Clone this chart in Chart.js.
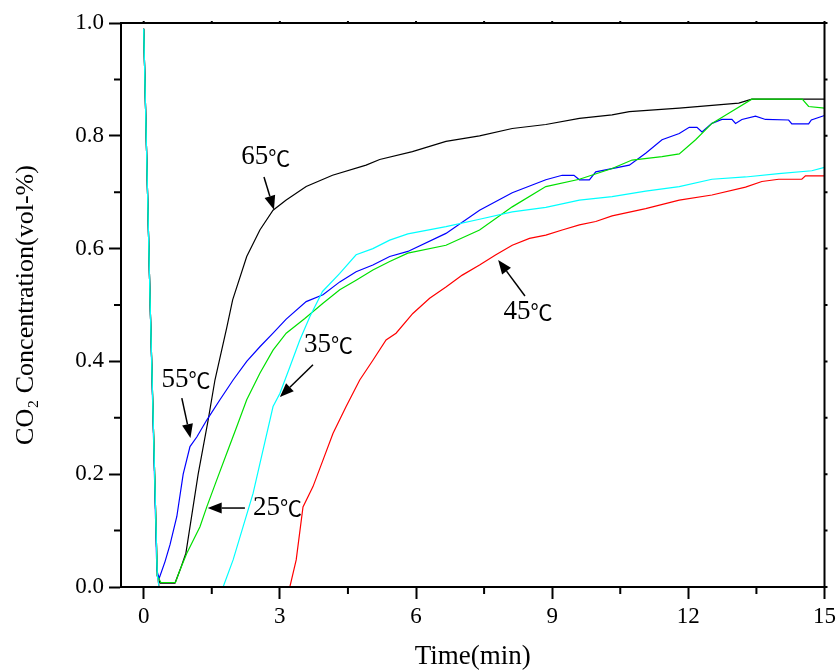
<!DOCTYPE html>
<html><head><meta charset="utf-8">
<script src="https://cdn.jsdelivr.net/npm/chart.js@4/dist/chart.umd.min.js"></script>
<style>html,body{margin:0;padding:0;background:#fff;overflow:hidden}#wrap{width:840px;height:670px}</style>
</head><body><div id="wrap"><canvas id="c" width="840" height="670" style="width:840px;height:670px"></canvas></div>
<script>
// tick labels
const xTickLabels = [0, 3, 6, 9, 12, 15];
const xMinorTicks = [1.5, 4.5, 7.5, 10.5, 13.5];
const yTickLabels = [0.0, 0.2, 0.4, 0.6, 0.8, 1.0];
const yMinorTicks = [0.1, 0.3, 0.5, 0.7, 0.9];

// 25 °C (green)
const t25 = [0, 0.14, 0.30, 0.38, 0.70, 0.80, 0.95, 1.24, 1.39, 1.61, 1.83, 2.05, 2.27, 2.56, 2.85, 3.14, 3.55, 3.95, 4.32, 4.68, 5.05, 5.42, 5.82, 6.66, 7.40, 8.12, 8.86, 9.60, 10.32, 10.76, 11.42, 11.80, 12.16, 12.52, 12.89, 13.40, 14.51, 14.65, 15.0];
const c25 = [0.99, 0.51, 0.02, 0.008, 0.008, 0.03, 0.06, 0.107, 0.142, 0.19, 0.237, 0.284, 0.332, 0.379, 0.42, 0.45, 0.476, 0.503, 0.527, 0.544, 0.562, 0.577, 0.592, 0.606, 0.633, 0.674, 0.71, 0.723, 0.742, 0.757, 0.763, 0.768, 0.793, 0.822, 0.84, 0.865, 0.865, 0.852, 0.849];

// 35 °C (cyan)
const t35 = [0, 0.14, 0.30, 0.34, 1.75, 1.97, 2.19, 2.41, 2.63, 2.85, 3.00, 3.22, 3.44, 3.66, 3.94, 4.32, 4.68, 5.05, 5.42, 5.82, 6.66, 7.40, 8.12, 8.86, 9.60, 10.32, 11.06, 11.80, 12.52, 13.26, 13.99, 14.72, 15.0];
const c35 = [0.99, 0.51, 0.02, 0.0, 0.0, 0.048, 0.107, 0.166, 0.243, 0.32, 0.343, 0.39, 0.438, 0.479, 0.524, 0.556, 0.589, 0.60, 0.615, 0.626, 0.639, 0.652, 0.665, 0.673, 0.686, 0.692, 0.702, 0.71, 0.723, 0.727, 0.733, 0.738, 0.744];

// 45 °C (red)
const t45 = [0, 0.14, 0.30, 0.34, 3.22, 3.36, 3.51, 3.73, 3.95, 4.17, 4.46, 4.76, 5.05, 5.34, 5.56, 5.93, 6.30, 6.66, 7.02, 7.40, 7.76, 8.12, 8.50, 8.86, 9.22, 9.60, 9.96, 10.32, 11.06, 11.80, 12.52, 13.26, 13.62, 13.99, 14.50, 14.58, 15.0];
const c45 = [0.99, 0.51, 0.02, 0.0, 0.0, 0.048, 0.142, 0.178, 0.225, 0.272, 0.32, 0.367, 0.402, 0.438, 0.45, 0.485, 0.512, 0.532, 0.553, 0.571, 0.589, 0.606, 0.618, 0.624, 0.633, 0.642, 0.648, 0.658, 0.671, 0.686, 0.695, 0.709, 0.719, 0.723, 0.723, 0.729, 0.729];

// 55 °C (blue)
const t55 = [0, 0.14, 0.29, 0.34, 0.47, 0.58, 0.73, 0.87, 1.02, 1.17, 1.39, 1.68, 1.97, 2.27, 2.56, 2.85, 3.14, 3.58, 3.95, 4.32, 4.68, 5.05, 5.42, 5.82, 6.66, 7.40, 8.12, 8.86, 9.22, 9.48, 9.60, 9.82, 9.96, 10.70, 11.06, 11.42, 11.80, 12.02, 12.19, 12.30, 12.52, 12.74, 12.96, 13.04, 13.18, 13.48, 13.70, 14.21, 14.28, 14.65, 14.71, 15.0];
const c55 = [0.99, 0.51, 0.03, 0.015, 0.045, 0.075, 0.125, 0.20, 0.249, 0.266, 0.296, 0.332, 0.367, 0.40, 0.426, 0.45, 0.475, 0.506, 0.518, 0.541, 0.559, 0.571, 0.586, 0.595, 0.627, 0.668, 0.699, 0.722, 0.73, 0.73, 0.722, 0.722, 0.736, 0.748, 0.769, 0.793, 0.804, 0.815, 0.815, 0.807, 0.822, 0.829, 0.829, 0.822, 0.829, 0.835, 0.829, 0.828, 0.821, 0.821, 0.828, 0.836];

// 65 °C (black)
const t65 = [0, 0.14, 0.30, 0.36, 0.69, 0.80, 0.93, 1.20, 1.42, 1.57, 1.83, 1.96, 2.27, 2.56, 2.85, 3.14, 3.58, 4.16, 4.90, 5.20, 5.92, 6.66, 7.40, 8.12, 8.86, 9.60, 10.32, 10.70, 11.80, 13.11, 13.40, 15.0];
const c65 = [0.99, 0.51, 0.02, 0.007, 0.007, 0.03, 0.06, 0.20, 0.296, 0.367, 0.46, 0.509, 0.586, 0.633, 0.668, 0.686, 0.71, 0.73, 0.748, 0.758, 0.772, 0.79, 0.80, 0.813, 0.82, 0.831, 0.837, 0.843, 0.849, 0.858, 0.865, 0.865];

// annotation labels with arrows (data units)
const notes = [
  {num: '65', tx: 2.69, ty: 0.762, x0: 2.65, y0: 0.727, x1: 2.87, y1: 0.669},
  {num: '55', tx: 0.93, ty: 0.367, x0: 0.84, y0: 0.335, x1: 1.03, y1: 0.264},
  {num: '35', tx: 4.07, ty: 0.429, x0: 3.73, y0: 0.394, x1: 3.00, y1: 0.337},
  {num: '25', tx: 2.95, ty: 0.140, x0: 2.23, y0: 0.140, x1: 1.41, y1: 0.140},
  {num: '45', tx: 8.47, ty: 0.488, x0: 8.40, y0: 0.516, x1: 7.81, y1: 0.580}
];
const unit = '℃';

const pts = (t, c) => t.map((v, i) => ({x: v, y: c[i]}));
const serif = '"Liberation Serif", "Times New Roman", serif';

const mk = (label, t, c, color) => ({
  label, data: pts(t, c), borderColor: color, backgroundColor: color,
  borderWidth: 1.2, pointRadius: 0, showLine: true, tension: 0, fill: false
});

const framePlugin = {
  id: 'frame',
  afterDraw(chart) {
    const {ctx, chartArea: a, scales: {x, y}} = chart;
    ctx.save();
    ctx.strokeStyle = '#000';
    ctx.lineWidth = 2;
    ctx.strokeRect(a.left, a.top, a.right - a.left, a.bottom - a.top);
    ctx.beginPath();
    xMinorTicks.forEach(v => { const px = x.getPixelForValue(v); ctx.moveTo(px, a.bottom); ctx.lineTo(px, a.bottom + 7); });
    yMinorTicks.forEach(v => { const py = y.getPixelForValue(v); ctx.moveTo(a.left - 7, py); ctx.lineTo(a.left, py); });
    yMinorTicks.concat(yTickLabels).forEach(v => { const py = y.getPixelForValue(v); ctx.moveTo(a.right, py); ctx.lineTo(a.right + 3, py); });
    xMinorTicks.concat(xTickLabels).forEach(v => { const px = x.getPixelForValue(v); ctx.moveTo(px, a.top); ctx.lineTo(px, a.top - 2); });
    ctx.stroke();
    // annotations
    ctx.fillStyle = '#000';
    ctx.textBaseline = 'middle';
    ctx.textAlign = 'left';
    const fNum = '27px "Liberation Serif", serif';
    const fUnit = '22px "Noto Sans CJK SC", "DejaVu Sans", sans-serif';
    notes.forEach(n => {
      ctx.font = fNum; const wn = ctx.measureText(n.num).width;
      ctx.font = fUnit; const wu = ctx.measureText(unit).width;
      const cx = x.getPixelForValue(n.tx), cy = y.getPixelForValue(n.ty);
      const sx = cx - (wn + wu) / 2;
      ctx.font = fNum; ctx.fillText(n.num, sx, cy);
      ctx.font = fUnit; ctx.fillText(unit, sx + wn, cy);
      const ax0 = x.getPixelForValue(n.x0), ay0 = y.getPixelForValue(n.y0);
      const ax1 = x.getPixelForValue(n.x1), ay1 = y.getPixelForValue(n.y1);
      const ang = Math.atan2(ay1 - ay0, ax1 - ax0);
      const hl = 14, hw = 5.5;
      const bx = ax1 - hl * Math.cos(ang), by = ay1 - hl * Math.sin(ang);
      ctx.lineWidth = 1.5;
      ctx.beginPath(); ctx.moveTo(ax0, ay0); ctx.lineTo(bx, by); ctx.stroke();
      ctx.beginPath();
      ctx.moveTo(ax1, ay1);
      ctx.lineTo(bx + hw * Math.sin(ang), by - hw * Math.cos(ang));
      ctx.lineTo(bx - hw * Math.sin(ang), by + hw * Math.cos(ang));
      ctx.closePath(); ctx.fill();
    });
    ctx.restore();
  }
};

new Chart(document.getElementById('c'), {
  type: 'scatter',
  data: {
    datasets: [
      mk('35℃', t35, c35, '#00ffff'),
      mk('25℃', t25, c25, '#00e000'),
      mk('55℃', t55, c55, '#0000ff'),
      mk('45℃', t45, c45, '#ff0000'),
      mk('65℃', t65, c65, '#000000')
    ]
  },
  options: {
    responsive: false,
    animation: false,
    devicePixelRatio: 1,
    layout: {padding: {top: 23, right: 14, left: 0, bottom: 0}},
    plugins: {legend: {display: false}, tooltip: {enabled: false}},
    scales: {
      x: {
        type: 'linear', min: -0.5, max: 15,
        afterBuildTicks: s => { s.ticks = xTickLabels.map(v => ({value: v})); },
        afterFit: s => { s.height = 83; },
        grid: {display: true, drawOnChartArea: false, drawTicks: true, tickLength: 12, tickWidth: 2, tickColor: '#000'},
        border: {display: true, color: '#000', width: 2},
        ticks: {color: '#000', padding: 4, font: {family: serif, size: 23}, maxRotation: 0, autoSkip: false,
                callback: v => String(v)},
        title: {display: true, text: 'Time(min)', color: '#000', font: {family: serif, size: 27, lineHeight: 1}, padding: {top: 0, bottom: 0}}
      },
      y: {
        type: 'linear', min: 0, max: 1.0,
        afterBuildTicks: s => { s.ticks = yTickLabels.map(v => ({value: v})); },
        afterFit: s => { s.width = 121; },
        grid: {display: true, drawOnChartArea: false, drawTicks: true, tickLength: 12, tickWidth: 2, tickColor: '#000'},
        border: {display: true, color: '#000', width: 2},
        ticks: {color: '#000', padding: 5, font: {family: serif, size: 23}, autoSkip: false,
                callback: v => Number(v).toFixed(1)},
        title: {display: true, text: 'CO₂ Concentration(vol-%)', color: '#000', font: {family: serif, size: 26, lineHeight: 1}, padding: {top: 13, bottom: 0}}
      }
    }
  },
  plugins: [framePlugin]
});
</script>
</body></html>
